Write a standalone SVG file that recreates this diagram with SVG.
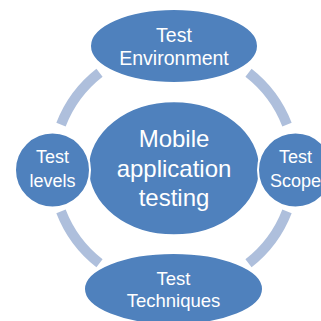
<svg xmlns="http://www.w3.org/2000/svg" width="321" height="321" viewBox="0 0 321 321">
<style>
.arc{fill:none;stroke:#aebfdc;stroke-width:10;stroke-linecap:butt}
.node{fill:#4f81bd;stroke:#ffffff;stroke-width:2}
.t{font-family:"Liberation Sans","Open Sans",sans-serif;fill:#ffffff;text-anchor:middle}
</style>
<rect width="321" height="321" fill="#ffffff"/>
<g id="connectors">
<path class="arc" d="M248.5,72.7 A121,121 0 0 1 287,124.6"/>
<path class="arc" d="M287,211.4 A121,121 0 0 1 248.5,263.3"/>
<path class="arc" d="M99.5,263.3 A121,121 0 0 1 61,211.4"/>
<path class="arc" d="M61,124.6 A121,121 0 0 1 99.5,72.7"/>
</g>
<g id="center">
<ellipse class="node" cx="174" cy="168.3" rx="86" ry="67"/>
<text class="t" font-size="24" x="174" y="147">Mobile</text>
<text class="t" font-size="24" x="174" y="176.5">application</text>
<text class="t" font-size="24" x="174" y="206">testing</text>
</g>
<g id="environment">
<ellipse class="node" cx="174" cy="46" rx="84" ry="37"/>
<text class="t" font-size="19.5" x="174" y="41.5">Test</text>
<text class="t" font-size="19.5" x="174" y="64.5">Environment</text>
</g>
<g id="levels">
<circle class="node" cx="52.5" cy="170" r="37.5"/>
<text class="t" font-size="18" x="52.5" y="162.7">Test</text>
<text class="t" font-size="18" x="52.5" y="186.7">levels</text>
</g>
<g id="scope">
<circle class="node" cx="295.5" cy="170" r="37.5"/>
<text class="t" font-size="18" x="295.5" y="162.7">Test</text>
<text class="t" font-size="18" x="295.5" y="186.7">Scope</text>
</g>
<g id="techniques">
<ellipse class="node" cx="173.5" cy="289" rx="89.5" ry="36"/>
<text class="t" font-size="18.5" x="173.5" y="285">Test</text>
<text class="t" font-size="18.5" x="173.5" y="306.7">Techniques</text>
</g>
</svg>
